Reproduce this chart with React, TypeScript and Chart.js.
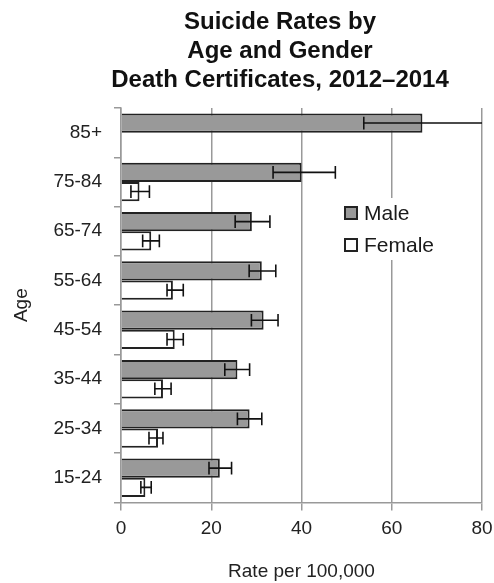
import React, { useEffect, useRef } from "react";
import { Chart, registerables } from "chart.js";

Chart.register(...registerables);

const categories = ["85+", "75-84", "65-74", "55-64", "45-54", "35-44", "25-34", "15-24"];
const maleRates = [66.8, 40.0, 29.0, 31.2, 31.6, 25.8, 28.5, 21.9];
const maleLow = [53.8, 33.7, 25.3, 28.4, 28.9, 23.0, 25.8, 19.5];
const maleHigh = [82.0, 47.5, 33.0, 34.3, 34.8, 28.5, 31.2, 24.5];
const femaleRates = [null, 4.1, 6.7, 11.5, 11.9, 9.3, 8.2, 5.4];
const femaleLow = [null, 2.2, 4.8, 10.2, 10.2, 7.5, 6.2, 4.4];
const femaleHigh = [null, 6.3, 8.5, 13.8, 13.8, 11.1, 9.3, 6.7];
const xTicks = [0, 20, 40, 60, 80];
const seriesNames = ["Male", "Female"];
const titleLines = ["Suicide Rates by", "Age and Gender", "Death Certificates, 2012–2014"];
const xTitle = "Rate per 100,000";
const yTitle = "Age";

const FONT = "'Liberation Sans', Arial, sans-serif";
const errLows = [maleLow, femaleLow];
const errHighs = [maleHigh, femaleHigh];

const errorBarsPlugin = {
  id: "errorBars",
  afterDatasetsDraw(chart: any) {
    const ctx = chart.ctx;
    const xs = chart.scales.x;
    const area = chart.chartArea;
    ctx.save();
    ctx.beginPath();
    ctx.rect(area.left, area.top - 4, area.right - area.left, area.bottom - area.top + 8);
    ctx.clip();
    ctx.strokeStyle = "#111";
    ctx.lineWidth = 1.6;
    chart.data.datasets.forEach((_ds: any, di: number) => {
      const meta = chart.getDatasetMeta(di);
      const lows = errLows[di];
      const highs = errHighs[di];
      meta.data.forEach((bar: any, i: number) => {
        if (lows[i] == null || highs[i] == null) return;
        const y = bar.y;
        const c = bar.height * 0.33;
        const x1 = xs.getPixelForValue(lows[i]);
        const x2 = xs.getPixelForValue(highs[i]);
        ctx.beginPath();
        ctx.moveTo(x1, y);
        ctx.lineTo(x2, y);
        ctx.moveTo(x1, y - c);
        ctx.lineTo(x1, y + c);
        ctx.moveTo(x2, y - c);
        ctx.lineTo(x2, y + c);
        ctx.stroke();
      });
    });
    ctx.restore();
  },
};

const titleLegendPlugin = {
  id: "titleLegend",
  afterDraw(chart: any) {
    const ctx = chart.ctx;
    ctx.save();
    // title
    ctx.fillStyle = "#111";
    ctx.font = `bold 24px ${FONT}`;
    ctx.textAlign = "center";
    ctx.textBaseline = "alphabetic";
    const baselines = [29, 58, 87];
    titleLines.forEach((t, i) => ctx.fillText(t, 280, baselines[i]));

    // legend
    ctx.fillStyle = "#fff";
    ctx.fillRect(338, 198, 130, 62);
    const rows = [213, 245];
    chart.data.datasets.forEach((ds: any, i: number) => {
      const cy = rows[i];
      ctx.fillStyle = ds.backgroundColor;
      ctx.fillRect(345, cy - 6, 12, 12);
      ctx.strokeStyle = "#222";
      ctx.lineWidth = 2;
      ctx.strokeRect(345, cy - 6, 12, 12);
      ctx.fillStyle = "#1a1a1a";
      ctx.font = `21px ${FONT}`;
      ctx.textAlign = "left";
      ctx.textBaseline = "middle";
      ctx.fillText(ds.label, 364, cy + 1);
    });
    ctx.restore();
  },
};

export default function App() {
  const ref = useRef<HTMLCanvasElement>(null);
  useEffect(() => {
    if (!ref.current) return;
    const chart = new Chart(ref.current, {
      type: "bar",
      data: {
        labels: categories,
        datasets: [
          {
            label: seriesNames[0],
            data: maleRates,
            backgroundColor: "#999999",
            borderColor: "#222",
            borderWidth: 2,
          },
          {
            label: seriesNames[1],
            data: femaleRates as any,
            backgroundColor: "#ffffff",
            borderColor: "#222",
            borderWidth: 2,
          },
        ],
      },
      options: {
        indexAxis: "y",
        responsive: false,
        animation: false,
        events: [],
        categoryPercentage: 0.78,
        barPercentage: 1.0,
        layout: { padding: { top: 108, right: 12, left: 10, bottom: 0 } },
        plugins: {
          legend: { display: false },
          title: { display: false },
          tooltip: { enabled: false },
        },
        scales: {
          x: {
            min: 0,
            max: 80,
            afterBuildTicks: (scale: any) => {
              scale.ticks = xTicks.map((v) => ({ value: v }));
            },
            afterFit: (scale: any) => {
              scale.paddingLeft = 0;
              scale.paddingRight = 0;
            },
            grid: { color: "#999", lineWidth: 1.5, tickLength: 8 },
            border: { color: "#999", width: 1.5 },
            ticks: { color: "#222", font: { size: 19, family: FONT }, padding: 7, maxRotation: 0 },
            title: {
              display: true,
              text: xTitle,
              color: "#222",
              font: { size: 19, family: FONT },
              padding: { top: 13, bottom: 0 },
            },
          },
          y: {
            offset: true,
            afterFit: (scale: any) => {
              scale.width = 111;
            },
            grid: { offset: true, drawOnChartArea: false, color: "#999", lineWidth: 1.5, tickLength: 7 },
            border: { color: "#999", width: 1.5 },
            ticks: { color: "#222", font: { size: 19, family: FONT }, padding: 12 },
            title: {
              display: true,
              text: yTitle,
              color: "#222",
              font: { size: 19, family: FONT },
              padding: { top: 0, bottom: 20 },
            },
          },
        },
      },
      plugins: [errorBarsPlugin, titleLegendPlugin],
    });
    return () => chart.destroy();
  }, []);
  return (
    <div style={{ position: "absolute", left: 0, top: 0, width: 494, height: 583, background: "#fff" }}>
      <canvas ref={ref} width={494} height={583} />
    </div>
  );
}
